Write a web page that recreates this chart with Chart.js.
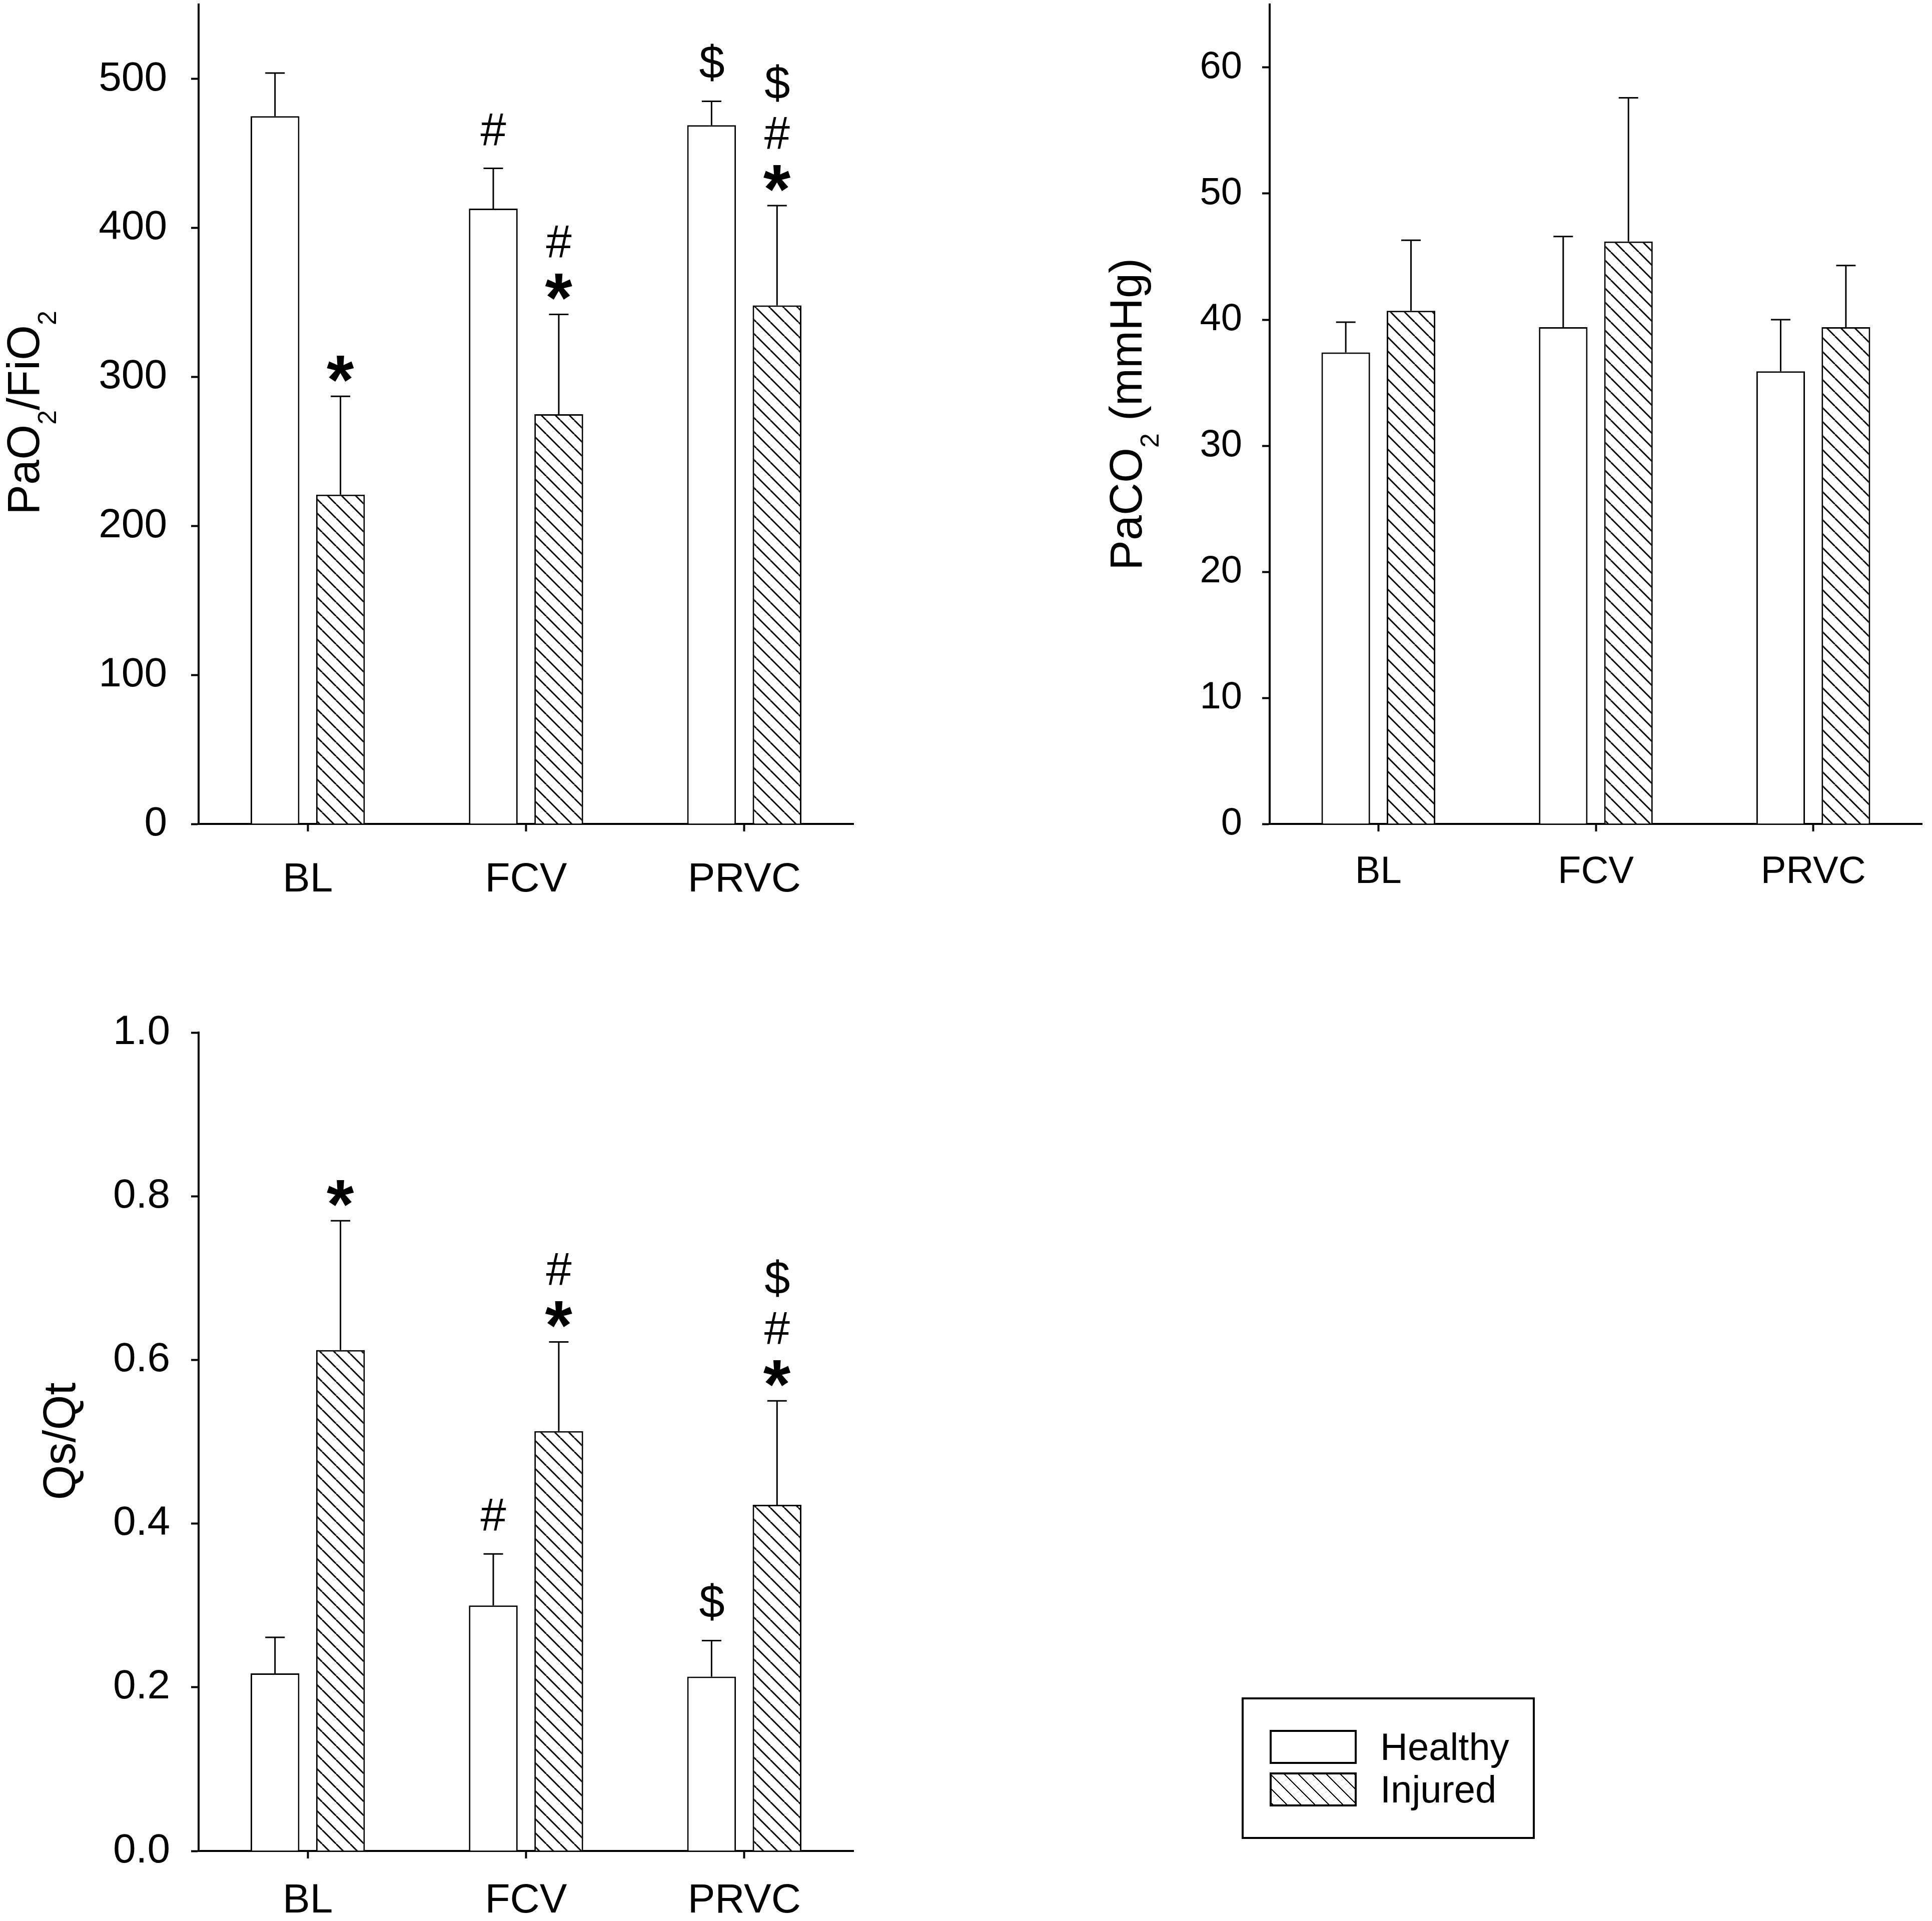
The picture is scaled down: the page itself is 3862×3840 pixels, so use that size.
<!DOCTYPE html>
<html>
<head>
<meta charset="utf-8">
<title>Gas exchange by ventilation mode</title>
<script src="https://cdn.jsdelivr.net/npm/chart.js"></script>
<style>
    html, body { margin: 0; padding: 0; background: #fff; }
    #page { position: relative; width: 3862px; height: 3840px; overflow: hidden; background: #fff; }
    canvas { position: absolute; }
    #legend {
        position: absolute; left: 2482px; top: 3393px; width: 586px; height: 283px;
        box-sizing: border-box; border: 4px solid #000;
        font-family: 'Liberation Sans', Arial, sans-serif; font-size: 76px; color: #000;
    }
    .row { position: absolute; left: 52px; display: flex; align-items: center; }
    .swatch { width: 174px; height: 68px; box-sizing: border-box; border: 4px solid #000; background: #fff; }
    .swatch.hatched { background: repeating-linear-gradient(45deg, #000 0 2.2px, #fff 2.2px 19.8px); }
    .row span { margin-left: 47px; line-height: 68px; }
</style>
</head>
<body>
<div id="page">
    <canvas id="paoChart" width="1760" height="1900" style="left:0;top:0;width:1760px;height:1900px"></canvas>
    <canvas id="pacoChart" width="1762" height="1900" style="left:2100px;top:0;width:1762px;height:1900px"></canvas>
    <canvas id="shuntChart" width="1760" height="1890" style="left:0;top:1950px;width:1760px;height:1890px"></canvas>
    <div id="legend">
        <div class="row" style="top:61px"><div class="swatch"></div><span>Healthy</span></div>
        <div class="row" style="top:146px"><div class="swatch hatched"></div><span>Injured</span></div>
    </div>
</div>
<script>
// Ventilation phases on the x axis
const groups = ['BL', 'FCV', 'PRVC'];

// PaO2/FiO2 (mean and SD)
const paoHealthy = [475, 413, 469];
const paoHealthySd = [29, 27, 16];
const paoInjured = [221, 275, 348];
const paoInjuredSd = [66, 67, 67];
const paoTicks = [0, 100, 200, 300, 400, 500];

// PaCO2 in mmHg (mean and SD)
const pacoHealthy = [37.4, 39.4, 35.9];
const pacoHealthySd = [2.4, 7.2, 4.1];
const pacoInjured = [40.7, 46.2, 39.4];
const pacoInjuredSd = [5.6, 11.4, 4.9];
const pacoTicks = [0, 10, 20, 30, 40, 50, 60];

// Qs/Qt (mean and SD)
const shuntHealthy = [0.217, 0.300, 0.213];
const shuntHealthySd = [0.044, 0.063, 0.044];
const shuntInjured = [0.612, 0.513, 0.423];
const shuntInjuredSd = [0.158, 0.109, 0.127];
const shuntTicks = [0, 0.2, 0.4, 0.6, 0.8, 1.0];

// Significance marks stacked above each error bar, read from the bottom up
const paoHealthyMarks = ['', '#', '$'];
const paoInjuredMarks = ['*', '*#', '*#$'];
const pacoHealthyMarks = ['', '', ''];
const pacoInjuredMarks = ['', '', ''];
const shuntHealthyMarks = ['', '#', '$'];
const shuntInjuredMarks = ['*', '*#', '*#$'];

// Axis titles, split where the subscripts go
const paoTitle = [['PaO', false], ['2', true], ['/FiO', false], ['2', true]];
const pacoTitle = [['PaCO', false], ['2', true], [' (mmHg)', false]];
const shuntTitle = [['Qs/Qt', false]];

const FONT = "'Liberation Sans', Arial, sans-serif";

// Diagonal hatch used for the injured bars
function makeHatch() {
    const size = 28;
    const c = document.createElement('canvas');
    c.width = size;
    c.height = size;
    const g = c.getContext('2d');
    g.fillStyle = '#fff';
    g.fillRect(0, 0, size, size);
    g.strokeStyle = '#000';
    g.lineWidth = 3;
    g.beginPath();
    [-size, 0, size].forEach(k => {
        g.moveTo(k, 0);
        g.lineTo(k + size, size);
    });
    g.stroke();
    return g.createPattern(c, 'repeat');
}

// Error bars (upper half only) and the significance symbols over them
function errorPlugin(errors, marks) {
    return {
        id: 'errorMarks',
        afterDatasetsDraw(chart) {
            const ctx = chart.ctx;
            const yScale = chart.scales.y;
            chart.data.datasets.forEach((ds, di) => {
                const meta = chart.getDatasetMeta(di);
                meta.data.forEach((bar, i) => {
                    const top = yScale.getPixelForValue(ds.data[i] + errors[di][i]);
                    ctx.save();
                    ctx.strokeStyle = '#000';
                    ctx.lineWidth = 3;
                    ctx.beginPath();
                    ctx.moveTo(bar.x, bar.y);
                    ctx.lineTo(bar.x, top);
                    ctx.moveTo(bar.x - 19.5, top);
                    ctx.lineTo(bar.x + 19.5, top);
                    ctx.stroke();

                    ctx.fillStyle = '#000';
                    ctx.textAlign = 'center';
                    ctx.textBaseline = 'alphabetic';
                    let cy = top;
                    let prev = null;
                    for (const s of marks[di][i]) {
                        if (prev === null) {
                            cy -= (s === '*') ? 55 : 78;
                        } else {
                            cy -= (prev === '*') ? 90 : 100;
                        }
                        ctx.font = (s === '*') ? 'bold 140px ' + FONT : '92px ' + FONT;
                        const m = ctx.measureText(s);
                        const base = cy + (m.actualBoundingBoxAscent - m.actualBoundingBoxDescent) / 2;
                        const shift = (m.actualBoundingBoxLeft - m.actualBoundingBoxRight) / 2;
                        ctx.fillText(s, bar.x + shift, base);
                        prev = s;
                    }
                    ctx.restore();
                });
            });
        }
    };
}

// Rotated y axis title with subscripts
function titlePlugin(parts, x, cy) {
    return {
        id: 'yTitle',
        afterDraw(chart) {
            const ctx = chart.ctx;
            const fontOf = sub => (sub ? '52px ' : '90px ') + FONT;
            ctx.save();
            ctx.fillStyle = '#000';
            const widths = parts.map(p => {
                ctx.font = fontOf(p[1]);
                return ctx.measureText(p[0]).width;
            });
            const total = widths.reduce((a, b) => a + b, 0);
            ctx.translate(x, cy);
            ctx.rotate(-Math.PI / 2);
            ctx.textAlign = 'left';
            ctx.textBaseline = 'alphabetic';
            let pos = -total / 2;
            parts.forEach((p, i) => {
                ctx.font = fontOf(p[1]);
                ctx.fillText(p[0], pos, p[1] ? 34 : 0);
                pos += widths[i];
            });
            ctx.restore();
        }
    };
}

const hatch = makeHatch();

function makeChart(id, cfg) {
    const axisLine = { display: true, color: '#000', width: 4 };
    const tickMarks = {
        display: true, drawOnChartArea: false, drawTicks: true,
        tickLength: 15, tickWidth: 4, tickColor: '#000'
    };
    return new Chart(document.getElementById(id), {
        type: 'bar',
        data: {
            labels: groups,
            datasets: [
                {
                    label: 'Healthy', data: cfg.healthy,
                    backgroundColor: '#fff', borderColor: '#000', borderWidth: 3,
                    categoryPercentage: 0.6, barPercentage: 0.745
                },
                {
                    label: 'Injured', data: cfg.injured,
                    backgroundColor: hatch, borderColor: '#000', borderWidth: 3,
                    categoryPercentage: 0.6, barPercentage: 0.745
                }
            ]
        },
        options: {
            responsive: false,
            maintainAspectRatio: false,
            animation: false,
            devicePixelRatio: 1,
            layout: { padding: cfg.padding },
            scales: {
                x: {
                    offset: true,
                    grid: Object.assign({ offset: false }, tickMarks),
                    border: axisLine,
                    ticks: {
                        color: '#000', padding: cfg.xPad, maxRotation: 0, autoSkip: false,
                        font: { family: FONT, size: cfg.fontSize }
                    },
                    afterFit: s => {
                        s.height = cfg.xHeight;
                        s.paddingLeft = 0;
                        s.paddingRight = 0;
                    }
                },
                y: {
                    min: 0,
                    max: cfg.max,
                    grid: tickMarks,
                    border: axisLine,
                    afterBuildTicks: s => {
                        s.ticks = cfg.ticks.map(v => ({ value: v }));
                    },
                    ticks: {
                        color: '#000', padding: cfg.yPad,
                        font: { family: FONT, size: cfg.fontSize },
                        callback: v => cfg.format(v)
                    },
                    afterFit: s => {
                        s.width = cfg.yWidth;
                        s.paddingTop = 0;
                        s.paddingBottom = 0;
                    }
                }
            },
            plugins: {
                legend: { display: false },
                tooltip: { enabled: false }
            }
        },
        plugins: [
            errorPlugin(cfg.errors, cfg.marks),
            titlePlugin(cfg.title, cfg.titleX, cfg.titleY)
        ]
    });
}

makeChart('paoChart', {
    healthy: paoHealthy, injured: paoInjured,
    errors: [paoHealthySd, paoInjuredSd],
    marks: [paoHealthyMarks, paoInjuredMarks],
    max: 550, ticks: paoTicks, format: v => String(v),
    title: paoTitle, titleX: 78, titleY: 825,
    padding: { left: 0, top: 9, right: 54, bottom: 0 },
    yWidth: 397, xHeight: 253, fontSize: 82, xPad: 48, yPad: 48
});

makeChart('pacoChart', {
    healthy: pacoHealthy, injured: pacoInjured,
    errors: [pacoHealthySd, pacoInjuredSd],
    marks: [pacoHealthyMarks, pacoInjuredMarks],
    max: 65, ticks: pacoTicks, format: v => String(v),
    title: pacoTitle, titleX: 182, titleY: 828,
    padding: { left: 0, top: 9, right: 20, bottom: 0 },
    yWidth: 438, xHeight: 253, fontSize: 76, xPad: 36, yPad: 40
});

makeChart('shuntChart', {
    healthy: shuntHealthy, injured: shuntInjured,
    errors: [shuntHealthySd, shuntInjuredSd],
    marks: [shuntHealthyMarks, shuntInjuredMarks],
    max: 1.0, ticks: shuntTicks, format: v => v.toFixed(1),
    title: shuntTitle, titleX: 150, titleY: 931,
    padding: { left: 0, top: 114, right: 54, bottom: 0 },
    yWidth: 397, xHeight: 140, fontSize: 82, xPad: 36, yPad: 42
});
</script>
</body>
</html>
